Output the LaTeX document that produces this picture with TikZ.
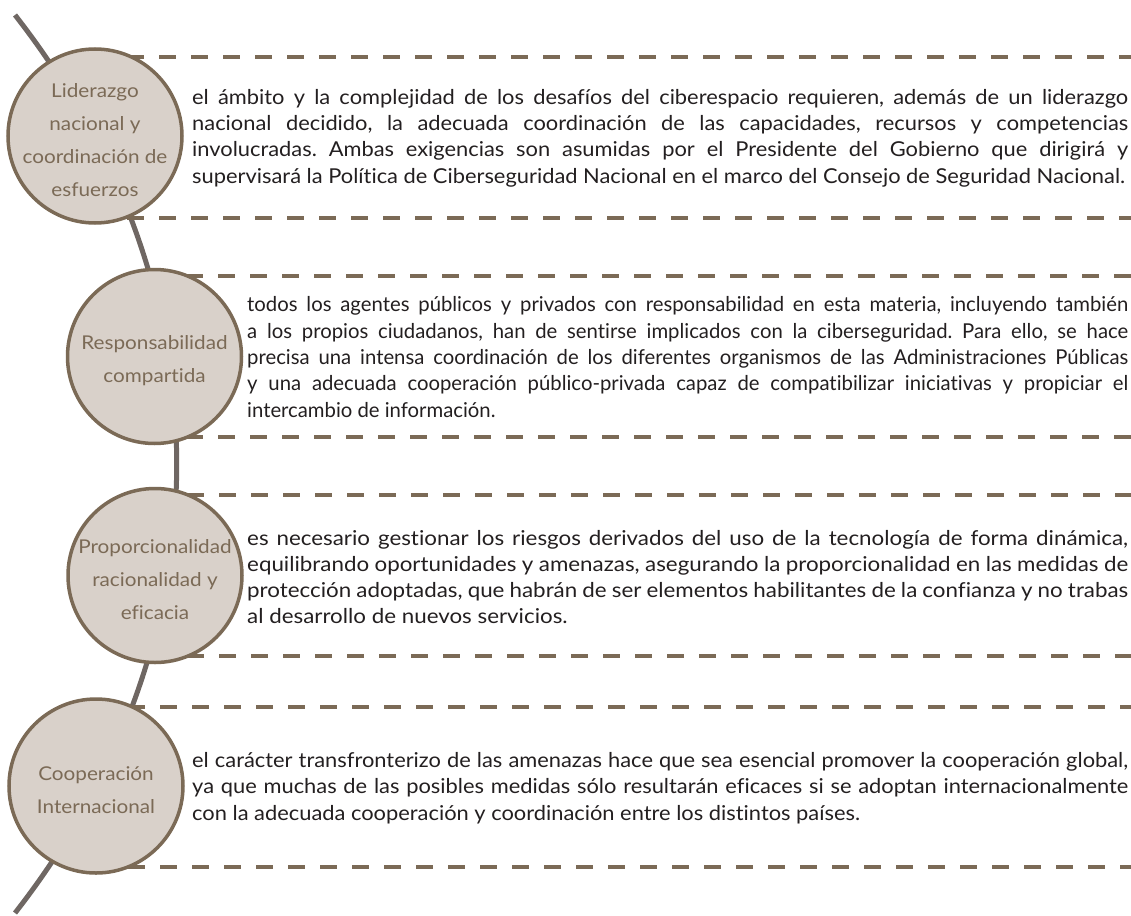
\documentclass[tikz,border=0pt]{standalone}
\usepackage{fontspec}
\setmainfont{Lato}[FakeStretch=1.09, Ligatures=CommonOff]
\newfontfamily\midlato{Lato}[FakeStretch=1.066, Ligatures=CommonOff]
\newfontfamily\tightlato{Lato}[FakeStretch=0.99, Ligatures=CommonOff]
\definecolor{spinec}{HTML}{6F6763}
\definecolor{brownc}{HTML}{7B6A56}
\definecolor{fillc}{HTML}{D9D1CA}
\definecolor{textc}{HTML}{231F20}
\tolerance=10000
\hyphenpenalty=10000
\exhyphenpenalty=10000
\frenchspacing
\tikzset{
  spine/.style={draw=spinec, line width=5pt},
  dashline/.style={draw=brownc, line width=4pt, dash pattern=on 17pt off 15pt},
  bubble/.style={circle, draw=brownc, fill=fillc, line width=3.5pt, minimum size=174pt, inner sep=0pt},
  bubbletext/.style={align=center, text=brownc, inner sep=0pt, yshift=-4pt,
    font=\fontsize{19}{33}\selectfont},
  body/.style={anchor=west, inner sep=0pt, align=justify, text=textc,
    font=\fontsize{20.5}{26.3}\selectfont},
  widebody/.style={body, font=\midlato\fontsize{20.5}{26.3}\selectfont},
  tightbody/.style={body, font=\tightlato\fontsize{20.5}{26.3}\selectfont}
}
\begin{document}
\begin{tikzpicture}[x=1pt,y=1pt]
\useasboundingbox (0,0) rectangle (1131,-915);
% spine
\coordinate (st) at (15,-15);
\coordinate (sb) at (15,-913);
\draw[spine] (st) to[bend left=38] (sb);
% dashed guide lines
\coordinate (d1a) at (95,-57);  \coordinate (e1a) at (1131,-57);
\coordinate (d1b) at (95,-218); \coordinate (e1b) at (1131,-218);
\coordinate (d2a) at (154,-276); \coordinate (e2a) at (1131,-276);
\coordinate (d2b) at (154,-437); \coordinate (e2b) at (1131,-437);
\coordinate (d3a) at (155,-495); \coordinate (e3a) at (1131,-495);
\coordinate (d3b) at (155,-656); \coordinate (e3b) at (1131,-656);
\coordinate (d4a) at (96,-707); \coordinate (e4a) at (1131,-707);
\coordinate (d4b) at (96,-867); \coordinate (e4b) at (1131,-867);
\foreach \p in {1a,1b,2a,2b,3a,3b,4a,4b} { \draw[dashline] (d\p) -- (e\p); }
% circles
\node[bubble] (c1) at (95,-136) {};
\node[bubble] (c2) at (154.5,-356.5) {};
\node[bubble] (c3) at (155,-575.5) {};
\node[bubble] (c4) at (96,-786) {};
\node[bubbletext] (l1) at (c1) {Liderazgo\\nacional y\\coordinación de\\esfuerzos};
\node[bubbletext] (l2) at (c2) {Responsabilidad\\compartida};
\node[bubbletext] (l3) at (c3) {Proporcionalidad\\racionalidad y\\eficacia};
\node[bubbletext] (l4) at (c4) {Cooperación\\Internacional};
% texts
\node[widebody, text width=936pt] (t1) at (192,-138) {el ámbito y la complejidad de los desafíos del ciberespacio requieren, además de un liderazgo\linebreak
nacional decidido, la adecuada coordinación de las capacidades, recursos y competencias\linebreak
involucradas. Ambas exigencias son asumidas por el Presidente del Gobierno que dirigirá y\linebreak
supervisará la Política de Ciberseguridad Nacional en el marco del Consejo de Seguridad Nacional.};
\node[tightbody, text width=881pt] (t2) at (247,-357) {todos los agentes públicos y privados con responsabilidad en esta materia, incluyendo también\linebreak
a los propios ciudadanos, han de sentirse implicados con la ciberseguridad. Para ello, se hace\linebreak
precisa una intensa coordinación de los diferentes organismos de las Administraciones Públicas\linebreak
y una adecuada cooperación público-privada capaz de compatibilizar iniciativas y propiciar el\linebreak
intercambio de información.};
\node[body, text width=881pt] (t3) at (247,-577) {es necesario gestionar los riesgos derivados del uso de la tecnología de forma dinámica,\linebreak
equilibrando oportunidades y amenazas, asegurando la proporcionalidad en las medidas de\linebreak
protección adoptadas, que habrán de ser elementos habilitantes de la confianza y no trabas\linebreak
al desarrollo de nuevos servicios.};
\node[widebody, text width=936pt] (t4) at (192,-788) {el carácter transfronterizo de las amenazas hace que sea esencial promover la cooperación global,\linebreak
ya que muchas de las posibles medidas sólo resultarán eficaces si se adoptan internacionalmente\linebreak
con la adecuada cooperación y coordinación entre los distintos países.};
\end{tikzpicture}
\end{document}
